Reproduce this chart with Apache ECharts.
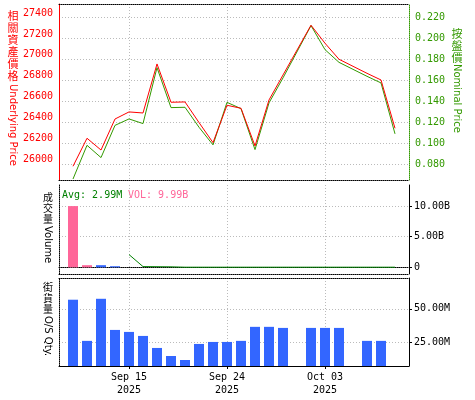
<!DOCTYPE html>
<html><head><meta charset="utf-8">
<script src="https://cdn.jsdelivr.net/npm/echarts@6/dist/echarts.min.js"></script>
<style>html,body{margin:0;padding:0;background:#fff}#c{width:475px;height:400px}</style>
</head><body><div id="c"></div>
<script>
// ---- data ----
const categories = ['Sep 08','Sep 09','Sep 10','Sep 11','Sep 12','Sep 15','Sep 16','Sep 17','Sep 18','Sep 19',
  'Sep 22','Sep 23','Sep 24','Sep 25','Sep 26','Sep 29','Sep 30','Oct 01','Oct 02','Oct 03',
  'Oct 06','Oct 07','Oct 08','Oct 09','Oct 10','Oct 13'];
const tickDates = ['Sep 15','Sep 24','Oct 03'];
const tickYear = '2025';
const underlyingPrice = [null,25930,26199,26086,26384,26452,26442,26913,26545,26548,
  26350,26157,26516,26487,26125,26567,26807,null,27285,27112,
  26958,null,26823,26759,26295,null];
const nominalPrice = [null,0.066,0.0981,0.0864,0.1171,0.1232,0.1188,0.1721,0.134,0.1343,
  0.1153,0.0985,0.139,0.133,0.094,0.1385,0.1623,null,0.2121,0.1892,
  0.1771,null,0.1638,0.1575,0.109,null];
const volumeUp = [null,9.99,0.35,null,null,null,null,null,null,null,null,null,null,null,null,null,null,null,null,null,null,null,null,null,null,null];
const volumeDown = [null,null,null,0.35,0.18,null,null,null,null,null,null,null,null,null,null,null,null,null,null,null,null,null,null,null,null,null];
const volumeAvg = [null,null,null,null,null,2.08,0.12,0.10,0.08,0.02,
  0.02,0.02,0.02,0.02,0.02,0.02,0.02,null,0.02,0.02,
  0.02,null,0.02,0.02,0.02,null];
const outstandingQty = [null,56.8,26.0,57.5,34.2,32.7,29.7,20.7,14.7,11.7,
  23.7,25.2,25.2,26.0,36.5,36.5,35.7,null,35.7,35.7,
  35.7,null,26.0,26.0,null,null];
const underlyingTicks = [26000,26200,26400,26600,26800,27000,27200,27400];
const nominalTicks = [0.08,0.10,0.12,0.14,0.16,0.18,0.20,0.22];
const volumeTicks = [0,5,10];
const qtyTicks = [25,50];
const avgText = 'Avg: 2.99M';
const volText = 'VOL: 9.99B';

// ---- chart ----
const mono = "'DejaVu Sans Mono', monospace";
const cjk = "'Noto Sans CJK TC'";
const isTick = (i) => tickDates.indexOf(categories[i]) >= 0;
const grid = {color:'#bbbbbb', type:[1,2], width:1};
const dotted = (c) => ({show:true, lineStyle:{color:c, type:[1,1], width:1}});
const solid = (c) => ({show:true, lineStyle:{color:c, type:'solid', width:1}});

function xAx(gi, pos, line, extra) {
  return Object.assign({
    type:'category', gridIndex:gi, position:pos, data:categories, boundaryGap:false,
    axisLine: line, axisTick:{show:false}, axisLabel:{show:false}, splitLine:{show:false}
  }, extra || {});
}
const xSplit = {show:true, interval:(i)=>isTick(i), lineStyle:grid};

const chart = echarts.init(document.getElementById('c'), null, {renderer:'canvas'});
chart.setOption({
  animation:false,
  backgroundColor:'#ffffff',
  grid:[
    {left:59, top:4, width:350, height:176},
    {left:59, top:185, width:350, height:89},
    {left:59, top:278, width:350, height:88}
  ],
  xAxis:[
    xAx(0,'bottom',dotted('#000'),{splitLine:xSplit}),
    xAx(0,'top',dotted('#000')),
    xAx(1,'bottom',dotted('#000'),{splitLine:xSplit}),
    xAx(1,'top',dotted('#000')),
    xAx(2,'bottom',solid('#000'),{
      splitLine:xSplit,
      axisTick:{show:true, interval:(i)=>isTick(i), length:3, lineStyle:{color:'#000'}},
      axisLabel:{show:true, interval:(i)=>isTick(i), color:'#000', fontFamily:mono, fontSize:10,
        lineHeight:13, margin:5, formatter:(v)=>v+'\n'+tickYear}
    }),
    xAx(2,'top',dotted('#000'))
  ],
  yAxis:[
    {type:'value', gridIndex:0, position:'left', min:25798, max:27489,
      axisLine:solid('#ff0000'), axisTick:{show:false, customValues:underlyingTicks},
      axisLabel:{customValues:underlyingTicks, color:'#ff0000', fontFamily:mono, fontSize:10, margin:6,
        formatter:(v)=>String(Math.round(v))},
      splitLine:{show:false}},
    {type:'value', gridIndex:0, position:'right', min:0.06505, max:0.23267,
      axisLine:dotted('#339900'), axisTick:{show:false, customValues:nominalTicks},
      axisLabel:{customValues:nominalTicks, color:'#339900', fontFamily:mono, fontSize:10, margin:6,
        formatter:(v)=>v.toFixed(3)},
      splitLine:{show:true, lineStyle:grid}},
    {type:'value', gridIndex:1, position:'left', min:0, max:1,
      axisLine:dotted('#000'), axisTick:{show:false}, axisLabel:{show:false}, splitLine:{show:false}},
    {type:'value', gridIndex:1, position:'right', min:-1.09, max:13.43,
      axisLine:solid('#000'), axisTick:{show:true, length:3, customValues:volumeTicks, lineStyle:{color:'#000'}},
      axisLabel:{customValues:volumeTicks, color:'#000', fontFamily:mono, fontSize:10, margin:5,
        formatter:(v)=> v===0 ? '0' : v.toFixed(2)+'B'},
      splitLine:{show:true, lineStyle:grid}},
    {type:'value', gridIndex:2, position:'left', min:0, max:1,
      axisLine:dotted('#000'), axisTick:{show:false}, axisLabel:{show:false}, splitLine:{show:false}},
    {type:'value', gridIndex:2, position:'right', min:7.2, max:73.05,
      axisLine:solid('#000'), axisTick:{show:true, length:3, customValues:qtyTicks, lineStyle:{color:'#000'}},
      axisLabel:{customValues:qtyTicks, color:'#000', fontFamily:mono, fontSize:10, margin:5,
        formatter:(v)=>v.toFixed(2)+'M'},
      splitLine:{show:true, lineStyle:grid}}
  ],
  series:[
    {type:'line', xAxisIndex:0, yAxisIndex:1, data:nominalPrice, symbol:'none', connectNulls:true,
      lineStyle:{color:'#339900', width:1}, itemStyle:{color:'#339900'}},
    {type:'line', xAxisIndex:0, yAxisIndex:0, data:underlyingPrice, symbol:'none', connectNulls:true,
      lineStyle:{color:'#ff0000', width:1}, itemStyle:{color:'#ff0000'}},
    {type:'bar', xAxisIndex:2, yAxisIndex:3, data:volumeUp, barWidth:10, barGap:'-100%',
      itemStyle:{color:'#ff6699'}},
    {type:'bar', xAxisIndex:2, yAxisIndex:3, data:volumeDown, barWidth:10, barGap:'-100%',
      itemStyle:{color:'#3366ff'}},
    {type:'line', xAxisIndex:2, yAxisIndex:3, data:volumeAvg, symbol:'none', connectNulls:true,
      lineStyle:{color:'#008000', width:1}, itemStyle:{color:'#008000'}},
    {type:'bar', xAxisIndex:4, yAxisIndex:5, data:outstandingQty, barWidth:10,
      itemStyle:{color:'#3366ff'}}
  ],
  graphic:[
    {type:'text', x:13, y:10, style:{text:'相\n關\n資\n產\n價\n格', fill:'#ff0000', fontSize:11, fontFamily:cjk,
      align:'center', verticalAlign:'top', lineHeight:12}},
    {type:'text', x:13, y:84, rotation:-Math.PI/2, style:{text:'Underlying Price', fill:'#ff0000', fontSize:10,
      fontFamily:"'DejaVu Sans'", align:'left', verticalAlign:'middle'}},
    {type:'text', x:457, y:28, style:{text:'按\n盤\n價', fill:'#339900', fontSize:11, fontFamily:cjk,
      align:'center', verticalAlign:'top', lineHeight:12}},
    {type:'text', x:457, y:64, rotation:-Math.PI/2, style:{text:'Nominal Price', fill:'#339900', fontSize:10,
      fontFamily:"'DejaVu Sans'", align:'left', verticalAlign:'middle'}},
    {type:'text', x:48, y:192, style:{text:'成\n交\n量', fill:'#000', fontSize:10, fontFamily:cjk,
      align:'center', verticalAlign:'top', lineHeight:11}},
    {type:'text', x:48, y:226, rotation:-Math.PI/2, style:{text:'Volume', fill:'#000', fontSize:10,
      fontFamily:"'DejaVu Sans'", align:'left', verticalAlign:'middle'}},
    {type:'text', x:48, y:282, style:{text:'街\n貨\n量', fill:'#000', fontSize:10, fontFamily:cjk,
      align:'center', verticalAlign:'top', lineHeight:11}},
    {type:'text', x:48, y:316, rotation:-Math.PI/2, style:{text:'O/S Qty.', fill:'#000', fontSize:10,
      fontFamily:"'DejaVu Sans'", align:'left', verticalAlign:'middle'}},
    {type:'text', x:62, y:195, style:{text:avgText, fill:'#008000', fontSize:10, fontFamily:mono,
      align:'left', verticalAlign:'middle'}},
    {type:'text', x:128, y:195, style:{text:volText, fill:'#ff6699', fontSize:10, fontFamily:mono,
      align:'left', verticalAlign:'middle'}}
  ]
});
</script></body></html>
